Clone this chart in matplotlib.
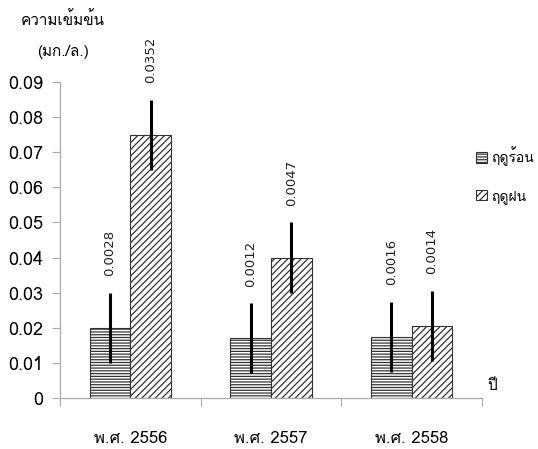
import glob
import matplotlib
matplotlib.use("Agg")
import matplotlib.pyplot as plt
from matplotlib import font_manager
from matplotlib.patches import Patch

# ---- data ----
years = ["พ.ศ. 2556", "พ.ศ. 2557", "พ.ศ. 2558"]
series_names = ["ฤดูร้อน", "ฤดูฝน"]
hot_values = [0.020, 0.017, 0.0173]
rain_values = [0.075, 0.040, 0.0205]
hot_err = [0.010, 0.010, 0.010]
rain_err = [0.010, 0.010, 0.010]
hot_labels = ["0.0028", "0.0012", "0.0016"]
rain_labels = ["0.0352", "0.0047", "0.0014"]
yticks = [0, 0.01, 0.02, 0.03, 0.04, 0.05, 0.06, 0.07, 0.08, 0.09]
ytick_labels = ["0", "0.01", "0.02", "0.03", "0.04", "0.05", "0.06", "0.07", "0.08", "0.09"]

# ---- find a font with Thai glyphs ----
thai_family = None
try:
    from fontTools.ttLib import TTFont
    paths = [f.fname for f in font_manager.fontManager.ttflist]
    paths += glob.glob("/usr/share/fonts/**/*.tt*", recursive=True)
    paths += glob.glob("/usr/share/fonts/**/*.otf", recursive=True)
    seen = set()
    for p in paths:
        if p in seen:
            continue
        seen.add(p)
        try:
            tt = TTFont(p, fontNumber=0, lazy=True)
            cmap = tt.getBestCmap() or {}
            if 0x0E01 in cmap and 0x0E49 in cmap:
                font_manager.fontManager.addfont(p)
                thai_family = font_manager.FontProperties(fname=p).get_name()
                break
        except Exception:
            continue
except Exception:
    pass

families = ([thai_family] if thai_family else []) + ["DejaVu Sans"]
plt.rcParams["font.family"] = families
plt.rcParams["hatch.linewidth"] = 0.9

fig = plt.figure(figsize=(5.38, 4.49), dpi=100)
ax = fig.add_axes([60 / 538, 1 - 398 / 449, (482 - 60) / 538, (398 - 82) / 449])

x = range(len(years))
w = 0.29
xh = [i - w / 2 for i in x]
xr = [i + w / 2 for i in x]

ax.bar(xh, hot_values, width=w, color="white", edgecolor="#333333",
       hatch="------", linewidth=0.8, zorder=2)
ax.bar(xr, rain_values, width=w, color="white", edgecolor="#333333",
       hatch="/////", linewidth=0.8, zorder=2)
ax.errorbar(xh, hot_values, yerr=hot_err, fmt="none", ecolor="black",
            elinewidth=2.2, capsize=0, zorder=3)
ax.errorbar(xr, rain_values, yerr=rain_err, fmt="none", ecolor="black",
            elinewidth=2.2, capsize=0, zorder=3)

for xi, v, e, lab in zip(xh, hot_values, hot_err, hot_labels):
    ax.annotate(lab, (xi, v + e), xytext=(0, 12), textcoords="offset points",
                rotation=90, ha="center", va="bottom", fontsize=9.5,
                family="DejaVu Sans", color="#222222")
for xi, v, e, lab in zip(xr, rain_values, rain_err, rain_labels):
    ax.annotate(lab, (xi, v + e), xytext=(0, 12), textcoords="offset points",
                rotation=90, ha="center", va="bottom", fontsize=9.5,
                family="DejaVu Sans", color="#222222", annotation_clip=False)

ax.set_xlim(-0.5, 2.5)
ax.set_ylim(0, 0.09)
ax.set_yticks(yticks)
ax.set_yticklabels(ytick_labels, fontsize=13)
ax.set_xticks([-0.5, 0.5, 1.5, 2.5])
ax.set_xticklabels([])
ax.set_xticks(list(x), minor=True)
ax.set_xticklabels(years, minor=True, fontsize=12)
ax.tick_params(axis="x", which="minor", length=0, pad=24)
ax.tick_params(axis="x", which="major", length=6, color="#aaaaaa", direction="out")
ax.tick_params(axis="y", length=6, color="#aaaaaa", direction="out", pad=6)

for s in ["top", "right"]:
    ax.spines[s].set_visible(False)
for s in ["left", "bottom"]:
    ax.spines[s].set_color("#aaaaaa")
    ax.spines[s].set_linewidth(0.9)

fig.text(63 / 538, 1 - 20 / 449, "ความเข้มข้น", ha="center", va="center", fontsize=11)
fig.text(63 / 538, 1 - 52 / 449, "(มก./ล.)", ha="center", va="center", fontsize=11)
fig.text(492 / 538, 1 - 386 / 449, "ปี", ha="center", va="center", fontsize=11)

handles = [Patch(facecolor="white", edgecolor="#333333", hatch="------", linewidth=0.8),
           Patch(facecolor="white", edgecolor="#333333", hatch="/////", linewidth=0.8)]
fig.legend(handles, series_names, loc="center left",
           bbox_to_anchor=(466 / 538, 1 - 175 / 449), frameon=False,
           fontsize=10, handlelength=0.8, handleheight=0.8, handletextpad=0.3,
           labelspacing=1.7, borderpad=0.2)

fig.savefig("out.png", dpi=100)
